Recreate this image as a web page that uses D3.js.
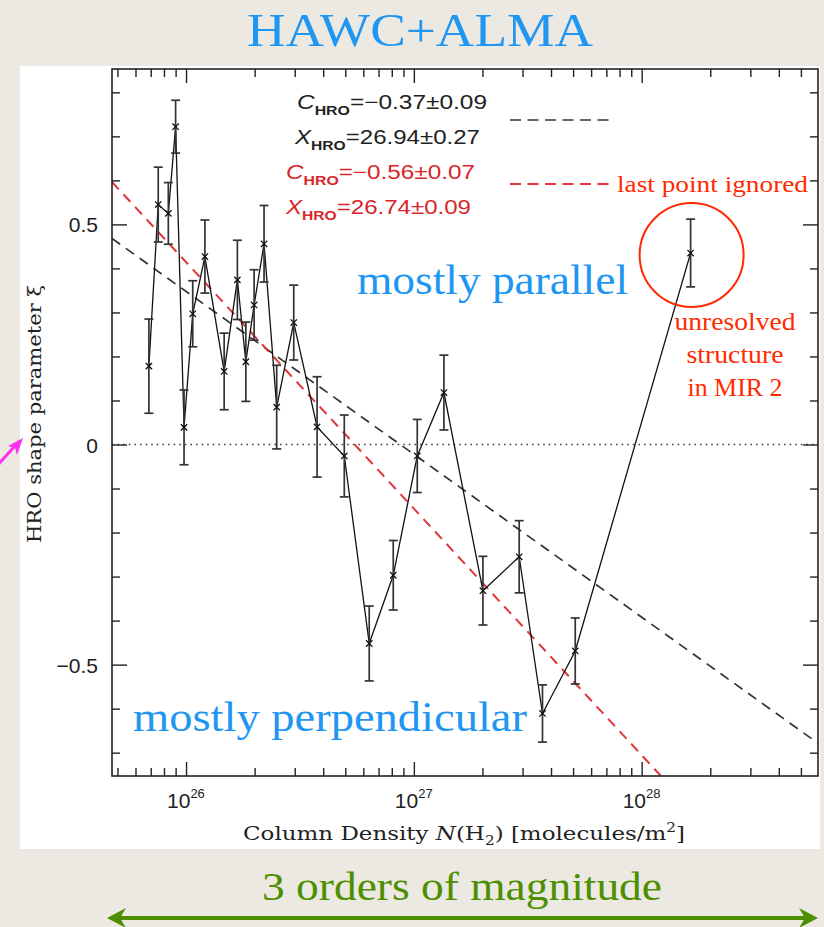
<!DOCTYPE html>
<html>
<head>
<meta charset="utf-8">
<script src="https://cdn.jsdelivr.net/npm/d3@7"></script>
<style>
  html, body { margin: 0; padding: 0; background: #ece8e2; }
  svg { display: block; }
</style>
</head>
<body>
<svg id="chart" width="824" height="927"></svg>
<script>
// ---- Data: HRO shape parameter per column-density bin ----
const columnDensity = [6.87e25, 7.55e25, 8.36e25, 9.0e25, 9.8e25, 1.07e26, 1.21e26, 1.47e26, 1.68e26,
  1.83e26, 1.99e26, 2.2e26, 2.5e26, 2.97e26, 3.76e26, 4.95e26, 6.37e26, 8.12e26, 1.035e27, 1.355e27,
  2.01e27, 2.9e27, 3.67e27, 5.11e27, 1.64e28];
const xiValue = [0.178, 0.545, 0.525, 0.722, 0.039, 0.297, 0.427, 0.166, 0.374, 0.188, 0.317, 0.456,
  0.085, 0.277, 0.040, -0.026, -0.452, -0.297, -0.026, 0.118, -0.332, -0.255, -0.611, -0.469, 0.435];
const xiError = [0.107, 0.085, 0.07, 0.06, 0.085, 0.075, 0.083, 0.087, 0.09, 0.09, 0.08, 0.087,
  0.095, 0.085, 0.114, 0.093, 0.085, 0.079, 0.083, 0.085, 0.078, 0.082, 0.065, 0.075, 0.077];

// Linear fits xi = C_HRO * (log10 N - X_HRO): all points, and last point ignored
const fitC = [-0.37, -0.56];
const fitCErr = [0.09, 0.07];
const fitX = [26.94, 26.74];
const fitXErr = [0.27, 0.09];
const fitColors = ["#333333", "#e0353a"];
const legendColors = ["#222222", "#d8262b"];

// Axis ticks and labels
const xMajorTicks = [1e26, 1e27, 1e28];
const xMajorExponents = ["26", "27", "28"];
const yMajorTicks = [-0.5, 0, 0.5];
const yMajorLabels = ["\u22120.5", "0", "0.5"];
const yMinorTicks = [-0.7, -0.6, -0.4, -0.3, -0.2, -0.1, 0.1, 0.2, 0.3, 0.4, 0.6, 0.7, 0.8];

// ---- Layout ----
const plot = { left: 112, right: 818, top: 69, bottom: 776 };
const svg = d3.select("#chart");

const x = d3.scaleLog().domain([Math.pow(10, 25.675), Math.pow(10, 28.774)]).range([plot.left, plot.right]);
const y = d3.scaleLinear().domain([-0.753, 0.853]).range([plot.bottom, plot.top]);

// white panel
svg.append("rect").attr("x", 20).attr("y", 66).attr("width", 800).attr("height", 783).attr("fill", "#ffffff");

// title
svg.append("text").attr("x", 247).attr("y", 46)
  .attr("font-family", "Liberation Serif, serif").attr("font-size", 46)
  .attr("fill", "#1e96f2").attr("textLength", 346).attr("lengthAdjust", "spacingAndGlyphs")
  .text("HAWC+ALMA");

const defs = svg.append("defs");
defs.append("clipPath").attr("id", "plotClip").append("rect")
  .attr("x", plot.left).attr("y", plot.top)
  .attr("width", plot.right - plot.left).attr("height", plot.bottom - plot.top);

const inner = svg.append("g").attr("clip-path", "url(#plotClip)");

// zero reference line
inner.append("line")
  .attr("x1", plot.left).attr("x2", plot.right).attr("y1", y(0)).attr("y2", y(0))
  .attr("stroke", "#444").attr("stroke-width", 1.4).attr("stroke-dasharray", "1.6,4");

// fit lines across the full x range
const logDomain = x.domain().map(Math.log10);
fitC.forEach((c, i) => {
  const pts = logDomain.map(l => [Math.pow(10, l), c * (l - fitX[i])]);
  inner.append("line")
    .attr("x1", x(pts[0][0])).attr("y1", y(pts[0][1]))
    .attr("x2", x(pts[1][0])).attr("y2", y(pts[1][1]))
    .attr("stroke", fitColors[i]).attr("stroke-width", i ? 2 : 1.7)
    .attr("stroke-dasharray", "10,7");
});

// data line
const points = columnDensity.map((n, i) => ({ n, v: xiValue[i], e: xiError[i] }));
inner.append("path").datum(points)
  .attr("d", d3.line().x(d => x(d.n)).y(d => y(d.v)))
  .attr("fill", "none").attr("stroke", "#111").attr("stroke-width", 1.3);

// error bars
const eb = inner.append("g").attr("stroke", "#333").attr("stroke-width", 1.7);
points.forEach(d => {
  const cx = x(d.n);
  eb.append("line").attr("x1", cx).attr("x2", cx).attr("y1", y(d.v - d.e)).attr("y2", y(d.v + d.e));
  [d.v - d.e, d.v + d.e].forEach(v => {
    eb.append("line").attr("x1", cx - 4.5).attr("x2", cx + 4.5).attr("y1", y(v)).attr("y2", y(v));
  });
});
// point markers
inner.append("g").selectAll("path").data(points).join("path")
  .attr("transform", d => `translate(${x(d.n)},${y(d.v)})`)
  .attr("d", d3.symbol(d3.symbolX, 28))
  .attr("fill", "none").attr("stroke", "#111").attr("stroke-width", 1.3);

// ---- axes (inward ticks on all four sides) ----
function styleAxis(g) {
  g.select(".domain").remove();
  g.selectAll(".tick line").attr("stroke", "#222").attr("stroke-width", 1.4);
}
const xMinorTicks = x.ticks().filter(t => xMajorTicks.indexOf(t) < 0);
[[d3.axisBottom, plot.bottom], [d3.axisTop, plot.top]].forEach(([ax, pos]) => {
  svg.append("g").attr("transform", `translate(0,${pos})`)
    .call(ax(x).tickValues(xMinorTicks).tickSize(-8).tickFormat("")).call(styleAxis);
  svg.append("g").attr("transform", `translate(0,${pos})`)
    .call(ax(x).tickValues(xMajorTicks).tickSize(-14).tickFormat("")).call(styleAxis);
});
[[d3.axisLeft, plot.left], [d3.axisRight, plot.right]].forEach(([ax, pos]) => {
  svg.append("g").attr("transform", `translate(${pos},0)`)
    .call(ax(y).tickValues(yMinorTicks).tickSize(-8).tickFormat("")).call(styleAxis);
  svg.append("g").attr("transform", `translate(${pos},0)`)
    .call(ax(y).tickValues(yMajorTicks).tickSize(-15).tickFormat("")).call(styleAxis);
});

// frame
svg.append("rect").attr("x", plot.left).attr("y", plot.top)
  .attr("width", plot.right - plot.left).attr("height", plot.bottom - plot.top)
  .attr("fill", "none").attr("stroke", "#222").attr("stroke-width", 1.6);

// y tick labels
svg.append("g").attr("transform", `translate(${plot.left},0)`)
  .call(d3.axisLeft(y).tickValues(yMajorTicks).tickSize(0).tickPadding(14)
    .tickFormat((d, i) => yMajorLabels[i]))
  .call(g => g.select(".domain").remove())
  .call(g => g.selectAll("text").attr("font-family", "Liberation Sans, Arial, sans-serif")
    .attr("font-size", 21).attr("fill", "#222").attr("dy", "0.36em"));

// x tick labels: 10^n
const xl = svg.append("g").attr("font-family", "Liberation Sans, Arial, sans-serif").attr("fill", "#222");
xMajorTicks.forEach((t, i) => {
  const txt = xl.append("text").attr("x", x(t) - 19).attr("y", 808).attr("font-size", 21);
  txt.append("tspan").text("10");
  txt.append("tspan").attr("font-size", 13).attr("dy", -10).text(xMajorExponents[i]);
});

// axis titles
const xt = svg.append("text").attr("x", 243).attr("y", 840)
  .attr("font-family", "DejaVu Serif, serif").attr("font-size", 18).attr("fill", "#222")
  .attr("textLength", 442).attr("lengthAdjust", "spacingAndGlyphs");
xt.append("tspan").text("Column Density ");
xt.append("tspan").attr("font-style", "italic").text("N");
xt.append("tspan").text("(H");
xt.append("tspan").attr("font-size", 12).attr("dy", 5).text("2");
xt.append("tspan").attr("dy", -5).text(") [molecules/m");
xt.append("tspan").attr("font-size", 12).attr("dy", -8).text("2");
xt.append("tspan").attr("dy", 8).text("]");

svg.append("text").attr("transform", "translate(41,543) rotate(-90)")
  .attr("font-family", "DejaVu Serif, serif").attr("font-size", 18).attr("fill", "#222")
  .attr("textLength", 258).attr("lengthAdjust", "spacingAndGlyphs")
  .text("HRO shape parameter \u03be");

// ---- fit legend ----
const fmt = v => (v < 0 ? "\u2212" : "") + Math.abs(v).toFixed(2);
const legendRows = [];
fitC.forEach((c, i) => {
  legendRows.push({ sym: "C", text: "=" + fmt(c) + "\u00b1" + fmt(fitCErr[i]), color: legendColors[i] });
  legendRows.push({ sym: "X", text: "=" + fmt(fitX[i]) + "\u00b1" + fmt(fitXErr[i]), color: legendColors[i] });
});
const legendX = [297, 295, 286, 286];
const legendW = [190, 185, 189, 185];
const legendBase = [109, 144, 179, 214];
legendRows.forEach((r, i) => {
  const t = svg.append("text").attr("x", legendX[i]).attr("y", legendBase[i])
    .attr("font-family", "Liberation Sans, Arial, sans-serif").attr("font-size", 20)
    .attr("fill", r.color).attr("textLength", legendW[i]).attr("lengthAdjust", "spacingAndGlyphs");
  t.append("tspan").attr("font-style", "italic").text(r.sym);
  t.append("tspan").attr("font-size", 13).attr("font-weight", "bold").attr("dy", 6).text("HRO");
  t.append("tspan").attr("dy", -6).text(r.text);
});
[120, 184].forEach((yy, i) => {
  svg.append("line").attr("x1", 510).attr("x2", 613).attr("y1", yy).attr("y2", yy)
    .attr("stroke", fitColors[i]).attr("stroke-width", i ? 2 : 1.7).attr("stroke-dasharray", "11,6.5");
});

// ---- annotations ----
const red = "#ff2a00";
const blue = "#1e96f2";
svg.append("text").attr("x", 617).attr("y", 192).attr("font-family", "Liberation Serif, serif")
  .attr("font-size", 24).attr("fill", red).attr("textLength", 191).attr("lengthAdjust", "spacingAndGlyphs")
  .text("last point ignored");

const last = points[points.length - 1];
svg.append("circle").attr("cx", x(last.n) + 1).attr("cy", y(last.v) + 2).attr("r", 52)
  .attr("fill", "none").attr("stroke", red).attr("stroke-width", 2);

[["unresolved", 330, 121], ["structure", 363, 97], ["in MIR 2", 396, 95]].forEach(([s, yy, w]) => {
  svg.append("text").attr("x", 735 - w / 2).attr("y", yy).attr("font-family", "Liberation Serif, serif")
    .attr("font-size", 25).attr("fill", red).attr("textLength", w).attr("lengthAdjust", "spacingAndGlyphs")
    .text(s);
});

svg.append("text").attr("x", 357).attr("y", 294).attr("font-family", "Liberation Serif, serif")
  .attr("font-size", 42).attr("fill", blue).attr("textLength", 271).attr("lengthAdjust", "spacingAndGlyphs")
  .text("mostly parallel");
svg.append("text").attr("x", 133).attr("y", 731).attr("font-family", "Liberation Serif, serif")
  .attr("font-size", 42).attr("fill", blue).attr("textLength", 394).attr("lengthAdjust", "spacingAndGlyphs")
  .text("mostly perpendicular");

// range arrow
const green = "#4d8f00";
svg.append("text").attr("x", 262).attr("y", 900).attr("font-family", "Liberation Serif, serif")
  .attr("font-size", 40).attr("fill", green).attr("textLength", 400).attr("lengthAdjust", "spacingAndGlyphs")
  .text("3 orders of magnitude");
svg.append("line").attr("x1", 116).attr("x2", 810).attr("y1", 918).attr("y2", 918)
  .attr("stroke", green).attr("stroke-width", 4);
svg.append("path").attr("d", "M107,918 L126,908 L120,918 L126,928 Z").attr("fill", green);
svg.append("path").attr("d", "M818,918 L799,908 L805,918 L799,928 Z").attr("fill", green);

// pointer towards the y-axis title
const pink = "#ff2ef0";
svg.append("line").attr("x1", -4).attr("y1", 467).attr("x2", 14).attr("y2", 447)
  .attr("stroke", pink).attr("stroke-width", 3);
svg.append("path").attr("d", "M23,438 L8,446 L15,448 L17,455 Z").attr("fill", pink);
</script>
</body>
</html>
